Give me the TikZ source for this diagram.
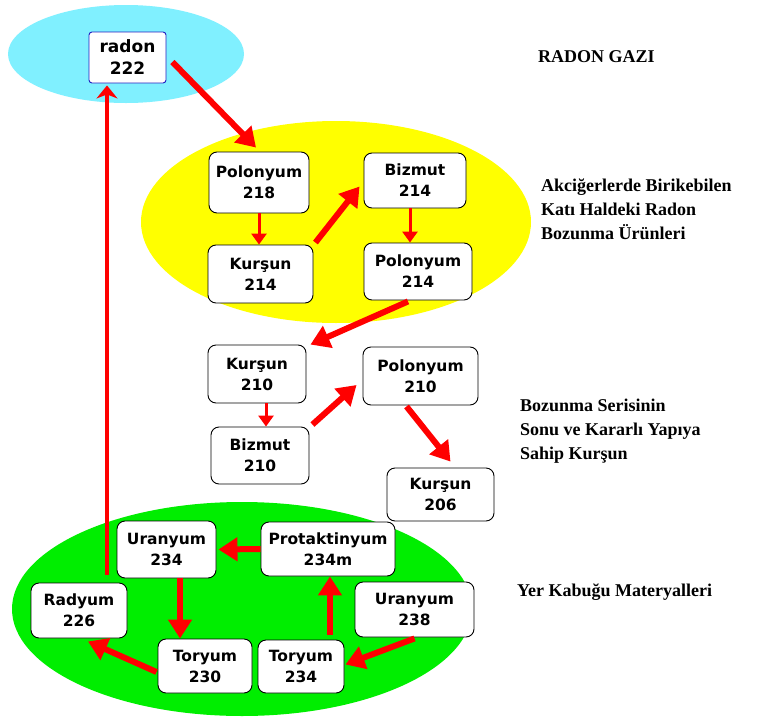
\documentclass[tikz,border=0pt]{standalone}
\usepackage{fontspec}
\setmainfont{Liberation Serif}
\newfontfamily\boxfont{DejaVu Sans}
\usetikzlibrary{arrows.meta,positioning}
\definecolor{cGas}{HTML}{80F0FF}
\definecolor{cLung}{HTML}{FFFF00}
\definecolor{cCrust}{HTML}{00EE00}
\definecolor{cArr}{HTML}{FF0000}
\definecolor{cRn}{HTML}{2020C0}
\tikzset{
  iso/.style   ={draw=black,fill=white,rounded corners=8pt,line width=0.9pt,
                 align=center,inner sep=1pt,font=\boxfont\bfseries\fontsize{15.5}{21}\selectfont},
  zone/.style  ={ellipse,draw=none},
  lbl/.style   ={anchor=west,align=left,inner sep=0pt,font=\bfseries\fontsize{18}{24}\selectfont},
  thin/.style  ={draw=cArr,line width=3pt,-{Triangle[length=11pt,width=15pt]}},
  fat/.style   ={draw=cArr,line width=6pt,-{Triangle[length=19pt,width=23pt]}},
  tall/.style  ={draw=cArr,line width=3.2pt,-{Stealth[length=13pt,width=21pt,inset=4pt]}},
}

\begin{document}
\begin{tikzpicture}[x=1pt, y=-1pt]
\useasboundingbox[fill=white] (0,0) rectangle (761,718);

% background zones
\fill[cGas]   (126,54)  ellipse [x radius=118pt, y radius=49pt];
\fill[cLung]  (336,222) ellipse [x radius=195pt, y radius=101pt];
\fill[cCrust] (242,609) ellipse [x radius=230pt, y radius=107pt];

% radon gas
\node[iso,draw=cRn,rounded corners=3pt,minimum width=77pt,minimum height=51pt,
      font=\boxfont\bfseries\fontsize{17}{22}\selectfont] (rn222) at (127.5,57.5) {radon\\222};

% solid decay products
\node[iso,minimum width=100pt,minimum height=61pt] (po218) at (259,182.5) {Polonyum\\218};
\node[iso,minimum width=105pt,minimum height=58pt] (pb214) at (260.5,274) {Kurşun\\214};
\node[iso,minimum width=102pt,minimum height=55pt] (bi214) at (415,180.5) {Bizmut\\214};
\node[iso,minimum width=108pt,minimum height=57pt] (po214) at (418,271.5) {Polonyum\\214};

% end of the series
\node[iso,minimum width=98pt,minimum height=58pt]  (pb210) at (257,374) {Kurşun\\210};
\node[iso,minimum width=115pt,minimum height=58pt] (po210) at (420.5,376) {Polonyum\\210};
\node[iso,minimum width=98pt,minimum height=57pt]  (bi210) at (260,455.5) {Bizmut\\210};
\node[iso,minimum width=107pt,minimum height=53pt] (pb206) at (440.5,494.5) {Kurşun\\206};

% crust materials
\node[iso,minimum width=99pt,minimum height=57pt]  (u234)  at (166.5,549.5) {Uranyum\\234};
\node[iso,minimum width=134pt,minimum height=54pt] (pa234) at (328,549) {Protaktinyum\\234m};
\node[iso,minimum width=96pt,minimum height=55pt]  (ra226) at (79,610.5) {Radyum\\226};
\node[iso,minimum width=119pt,minimum height=55pt] (u238)  at (414.5,609.5) {Uranyum\\238};
\node[iso,minimum width=94pt,minimum height=54pt]  (th230) at (205,666) {Toryum\\230};
\node[iso,minimum width=86pt,minimum height=53pt]  (th234) at (301,666.5) {Toryum\\234};

% side texts
\node[lbl] (tGas)   at (538,57)  {RADON GAZI};
\node[lbl] (tLung)  at (541,209) {Akciğerlerde Birikebilen\\Katı Haldeki Radon\\Bozunma Ürünleri};
\node[lbl] (tEnd)   at (520,431) {Bozunma Serisinin\\Sonu ve Kararlı Yapıya\\Sahip Kurşun};
\node[lbl] (tCrust) at (517,592) {Yer Kabuğu Materyalleri};

% decay chain
\draw[fat]  ([xshift=6pt,yshift=-4.5pt]rn222.east) -- ([xshift=-3pt,yshift=4pt]po218.north);
\draw[thin] (po218.south) -- (po218.south |- pb214.north);
\draw[fat]  ([xshift=2pt,yshift=2pt]pb214.north east) -- ([xshift=-4pt,yshift=-6pt]bi214.west);
\draw[thin] ([xshift=-5pt]bi214.south) -- ([xshift=-5pt]bi214.south |- po214.north);
\draw[fat]  ([xshift=-10pt,yshift=-1pt]po214.south) -- ([xshift=4pt]pb210.north east);
\draw[thin] ([xshift=9pt]pb210.south) -- ([xshift=9pt]pb210.south |- bi210.north);
\draw[fat]  ([xshift=3pt,yshift=2pt]bi210.north east) -- ([xshift=-6pt,yshift=-9pt]po210.west);
\draw[fat]  ([xshift=-14pt,yshift=-1pt]po210.south) -- ([xshift=10pt,yshift=6pt]pb206.north);

\draw[fat]  ([yshift=-1pt]u238.south) -- ([xshift=1pt,yshift=2pt]th234.east);
\draw[fat]  ([xshift=29pt,yshift=5pt]th234.north) -- ([xshift=2pt]pa234.south);
\draw[fat]  (pa234.west) -- ([xshift=2pt]u234.east);
\draw[fat]  ([xshift=13.5pt]u234.south) -- ([xshift=13.5pt]u234.south |- th230.north);
\draw[fat]  ([xshift=-1pt,yshift=-6pt]th230.west) -- ([xshift=9pt,yshift=-3pt]ra226.south);
\draw[tall] ([xshift=28pt,yshift=8pt]ra226.north) -- ([xshift=-20.5pt,yshift=-2pt]rn222.south);
\end{tikzpicture}
\end{document}
